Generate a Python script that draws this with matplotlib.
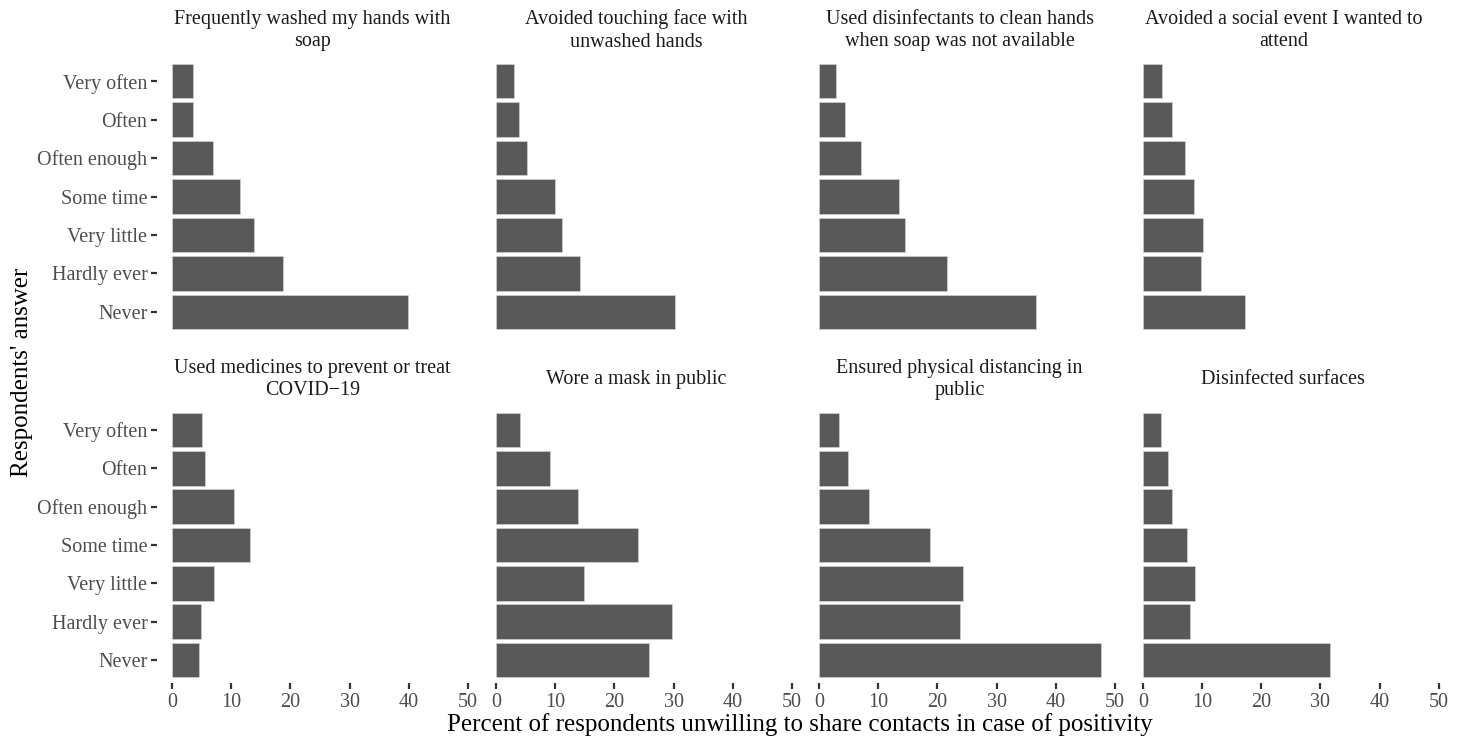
import matplotlib
matplotlib.use("Agg")
import matplotlib.pyplot as plt

plt.rcParams["font.family"] = ["Liberation Serif", "DejaVu Serif"]

answers = ["Very often", "Often", "Often enough", "Some time",
           "Very little", "Hardly ever", "Never"]

titles = [
    "Frequently washed my hands with\nsoap",
    "Avoided touching face with\nunwashed hands",
    "Used disinfectants to clean hands\nwhen soap was not available",
    "Avoided a social event I wanted to\nattend",
    "Used medicines to prevent or treat\nCOVID\u221219",
    "Wore a mask in public",
    "Ensured physical distancing in\npublic",
    "Disinfected surfaces",
]

# percent per answer, same order as `answers`
washed_hands = [3.5, 3.6, 7.0, 11.5, 13.8, 18.8, 39.8]
touching_face = [3.1, 3.9, 5.2, 9.9, 11.1, 14.2, 30.3]
disinfectants = [2.9, 4.4, 7.1, 13.5, 14.6, 21.7, 36.6]
social_event = [3.3, 5.0, 7.1, 8.7, 10.1, 9.8, 17.3]
medicines = [5.1, 5.5, 10.5, 13.2, 7.1, 4.9, 4.6]
mask = [4.0, 9.2, 13.8, 24.0, 14.8, 29.7, 25.8]
distancing = [3.4, 4.9, 8.4, 18.8, 24.4, 23.8, 47.7]
surfaces = [3.0, 4.3, 5.0, 7.5, 8.8, 7.9, 31.6]

series = [washed_hands, touching_face, disinfectants, social_event,
          medicines, mask, distancing, surfaces]

W, H = 1468, 742
fig = plt.figure(figsize=(W / 100, H / 100), dpi=100)

col_left = [157.2, 481.2, 804.2, 1128.0]
col_width = 310.8
row_top = [58.0, 407.0]
row_height = [277.0, 276.0]

tick_col = "#333333"
label_col = "#4D4D4D"
ypos = list(range(len(answers)))[::-1]

for i, (title, vals) in enumerate(zip(titles, series)):
    r, c = divmod(i, 4)
    ax = fig.add_axes([col_left[c] / W,
                       1 - (row_top[r] + row_height[r]) / H,
                       col_width / W,
                       row_height[r] / H])
    ax.barh(ypos, vals, height=0.9, color="#595959",
            edgecolor="#d9d9d9", linewidth=0.4)
    ax.set_xlim(-2.5, 50)
    ax.set_ylim(-0.6, 6.6)
    for s in ax.spines.values():
        s.set_visible(False)
    ax.set_xticks([0, 10, 20, 30, 40, 50])
    ax.set_yticks(ypos)
    ax.set_yticklabels(answers)
    ax.tick_params(axis="both", colors=tick_col, labelcolor=label_col,
                   labelsize=14.5, length=4, width=1.6, pad=3)
    if c != 0:
        ax.tick_params(axis="y", left=False, labelleft=False)
    if r == 0:
        ax.tick_params(axis="x", bottom=False, labelbottom=False)
    # strip-style title, vertically centred above the panel
    ax.text(0.5, 1 + 27.5 / row_height[r], title, transform=ax.transAxes,
            ha="center", va="center", fontsize=14.5, color="#1A1A1A",
            linespacing=1.25)

fig.text((447 + 1152) / 2 / W, 1 - 725 / H,
         "Percent of respondents unwilling to share contacts in case of positivity",
         ha="center", va="center", fontsize=18, color="black")
fig.text(22 / W, 1 - 372 / H, "Respondents' answer", rotation=90,
         ha="center", va="center", fontsize=18, color="black")

fig.savefig("out.png", dpi=100, facecolor="white")
